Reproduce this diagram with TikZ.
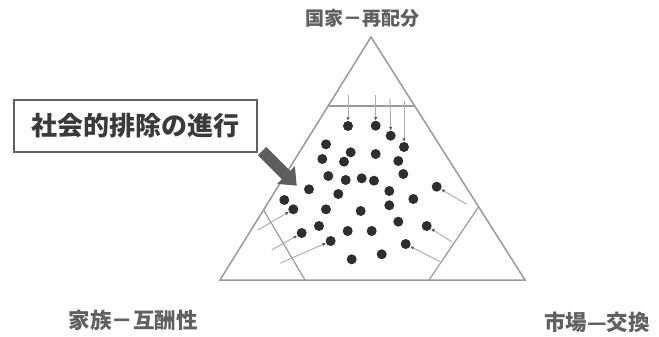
\documentclass[tikz,border=0pt]{standalone}
\usepackage{fontspec}
\newfontfamily\cjk{Noto Sans CJK JP}
\usetikzlibrary{arrows.meta}
\definecolor{tri}{HTML}{9A9A9A}
\definecolor{thin}{HTML}{ABABAB}
\definecolor{dotc}{HTML}{2E2E2E}
\definecolor{txt}{HTML}{606060}
\definecolor{boxt}{HTML}{3A3A3A}
\definecolor{fat}{HTML}{5E5E5E}
\tikzset{
  triline/.style={draw=tri, line width=1.5pt, line join=miter},
  inner/.style={draw=tri, line width=1.2pt},
  push/.style={draw=thin, line width=0.9pt, -{Latex[length=3.5pt,width=3.5pt,color=dotc!80]}},
  dotn/.style={circle, fill=dotc, inner sep=0pt, minimum size=10pt},
  lab/.style={text=txt, inner sep=0pt},
}
\begin{document}
\begin{tikzpicture}[x=1pt,y=-1pt]
\useasboundingbox (0,0) rectangle (659,337);
% triangle
\coordinate (A) at (371,37);
\coordinate (L) at (220,280);
\coordinate (R) at (525,280);
\draw[triline] (A) -- (L) -- (R) -- cycle;
% inner boundary lines
\coordinate (t1) at (327.5,106);
\coordinate (t2) at (414.5,106);
\draw[inner] (t1) -- (t2);
\coordinate (l1) at (263.5,210);
\coordinate (l2) at (305,280);
\draw[inner] (l1) -- (l2);
\coordinate (r1) at (478.5,207);
\coordinate (r2) at (429,280);
\draw[inner] (r1) -- (r2);
% dots
\foreach \n/\x/\y in {
 d1/348/126, d2/375.7/125.7, d3/390.7/135.7, d4/404/147,
 d5/326/144.3, d6/350.7/152.3, d7/375.7/154, d8/322.3/159, d9/344/161.7, d10/398.3/161,
 d11/328.3/176, d12/345.7/180, d13/361.7/178.3, d14/374/180.7, d15/403.3/174, d16/436.7/186.7,
 d17/309/189.3, d18/338.3/194, d19/389.3/191, d20/413.3/199,
 d21/284.3/200, d22/293.3/209.3, d23/326/209.3, d24/360.7/211, d25/389.3/205.3,
 d26/398.3/221.7, d27/426.7/226, d28/319/226, d29/347.7/231, d30/371.7/231,
 d31/301.7/233, d32/330.7/241, d33/405.7/244, d34/351.7/259.3, d35/381.7/254.3}
 {\node[dotn] (\n) at (\x,\y) {};}
% push arrows from top
\coordinate (s1) at (348,95);
\coordinate (s2) at (375.7,95);
\coordinate (s3) at (390,98);
\coordinate (s4) at (404,101);
\draw[push] (s1) -- (d1.north);
\draw[push] (s2) -- (d2.north);
\draw[push] (s3) -- (d3.north);
\draw[push] (s4) -- (d4.north);
% push arrows from left
\coordinate (p1) at (258,230);
\coordinate (p2) at (271.7,250);
\coordinate (p3) at (280,263.3);
\draw[push] (p1) -- (d22);
\draw[push] (p2) -- (d31);
\draw[push] (p3) -- (d32);
% push arrows from right
\coordinate (q1) at (466.7,204.3);
\coordinate (q2) at (451.7,241.7);
\coordinate (q3) at (440,261.7);
\draw[push] (q1) -- (d16);
\draw[push] (q2) -- (d27);
\draw[push] (q3) -- (d33);
% callout box
\node[draw=txt, line width=2pt, fill=white, minimum width=243pt, minimum height=51pt, inner sep=0pt,
      font=\cjk\bfseries\fontsize{26}{30}\selectfont, text=boxt] (box) at (135,126) {社会的排除の進行};
% fat arrow
\coordinate (fa) at (262,151);
\begin{scope}[shift={(fa)}, rotate=-45]
\fill[fat] (0,-6) -- (34,-6) -- (34,-12.5) -- (49,0) -- (34,12.5) -- (34,6) -- (0,6) -- cycle;
\end{scope}
% labels
\node[lab, font=\cjk\bfseries\fontsize{19}{22}\selectfont] (top) at (362,18) {国家－再配分};
\node[lab, font=\cjk\bfseries\fontsize{21.5}{24}\selectfont] (left) at (133,320) {家族－互酬性};
\node[lab, font=\cjk\bfseries\fontsize{21.5}{24}\selectfont] (right) at (597,322) {市場—交換};
\end{tikzpicture}
\end{document}
